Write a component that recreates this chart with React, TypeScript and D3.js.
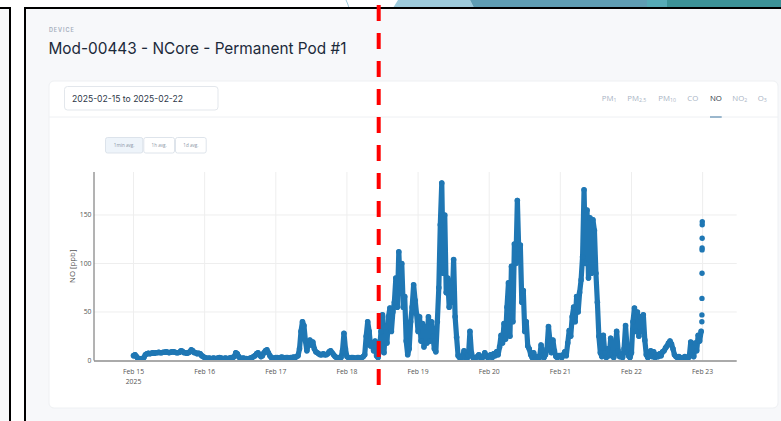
import React from "react";
import * as d3 from "d3";

// ---- Data (NO [ppb], 30‑minute readings) ----
const FEB15 = [5, 6, 4, 2, 2, 1.5, 2, 3, 6, 7, 7.5, 7, 7.5, 8, 7.5, 8, 8, 8.5, 8, 8, 8.5, 8.5, 9, 8.5, 8, 8.5, 9, 9, 8.5, 8, 8, 8.5, 10, 9.5, 8, 8, 7.5, 8, 9, 11, 10, 8, 8, 7, 7.5, 7, 5, 4];
const FEB16 = [3, 2.5, 2, 2.5, 2, 2, 2.5, 2, 2, 2.5, 3, 2.5, 2, 2, 2.5, 2, 2, 2.5, 3, 3, 4, 8, 7, 4, 2, 2, 2.5, 2, 2, 1.5, 2, 2.5, 3, 4, 5, 7, 8, 6, 4, 5, 8, 10, 11, 8, 5, 3, 2.5, 2];
const FEB17 = [3, 3, 2.5, 3, 3.5, 3, 2.5, 3, 3, 2.5, 3, 3, 3.5, 3, 4, 5, 12, 30, 40, 36, 20, 10, 18, 21, 16, 19, 12, 9, 8, 7, 6, 6, 7, 6, 6, 7, 9, 10, 8, 6, 4, 3, 3, 2.5, 3, 10, 28, 12];
const FEB18 = [4, 3, 2.5, 3, 3, 2.5, 2, 3, 3, 2.5, 3, 4, 6, 25, 40, 30, 15, 18, 10, 20, 5, 3, 12, 30, 47, 8, 35, 18, 45, 54, 30, 50, 60, 85, 55, 112, 75, 100, 55, 66, 20, 6, 12, 40, 55, 78, 62, 48];
const FEB19 = [30, 45, 20, 38, 14, 35, 18, 45, 20, 40, 25, 12, 9, 40, 75, 140, 183, 90, 150, 70, 85, 55, 80, 60, 104, 45, 24, 5, 3, 2, 4, 10, 3, 2, 5, 30, 8, 3, 2, 3, 4, 6, 3, 2, 4, 8, 5, 3];
const FEB20 = [4, 6, 3, 7, 5, 9, 6, 14, 26, 18, 38, 22, 55, 80, 25, 97, 40, 120, 100, 165, 110, 119, 60, 72, 30, 40, 15, 12, 6, 3, 8, 3, 2, 4, 3, 16, 5, 3, 6, 12, 35, 20, 8, 21, 10, 4, 3, 5];
const FEB21 = [5, 3, 6, 9, 5, 18, 31, 25, 45, 55, 40, 66, 50, 70, 83, 107, 176, 100, 155, 85, 147, 90, 145, 134, 90, 60, 25, 8, 4, 26, 8, 3, 12, 5, 23, 6, 3, 8, 30, 10, 4, 6, 3, 12, 36, 14, 5, 3];
const FEB22 = [8, 40, 54, 30, 50, 25, 45, 30, 47, 21, 6, 3, 5, 10, 4, 9, 3, 6, 4, 7, 5, 9, 10, 13, 15, 18, 20, 17, 12, 6, 4, 3, 4, 3, 2, 3, 4, 3, 2, 4, 19, 6, 4, 18, 10, 26, 20, 30];
// last minute-by-minute readings starting Feb 22 23:45
const FINAL_MINUTES = [40, 47, 64, 90, 114, 116, 126, 140, 143];

const SERIES_START = Date.UTC(2025, 1, 15, 0, 0);
const FINAL_START = Date.UTC(2025, 1, 22, 23, 45);
const STEP_MIN = 30;

const DAY_TICKS = ["2025-02-15", "2025-02-16", "2025-02-17", "2025-02-18", "2025-02-19", "2025-02-20", "2025-02-21", "2025-02-22", "2025-02-23"];
const Y_TICKS = [0, 50, 100, 150];
const TABS = [
  { base: "PM", sub: "1" },
  { base: "PM", sub: "2.5" },
  { base: "PM", sub: "10" },
  { base: "CO", sub: "" },
  { base: "NO", sub: "" },
  { base: "NO", sub: "2" },
  { base: "O", sub: "3" },
];
const ACTIVE_TAB = 4;
const AVG_BUTTONS = ["1min avg.", "1h avg.", "1d avg."];
const TITLE = "Mod-00443 - NCore - Permanent Pod #1";
const DATE_RANGE = "2025-02-15 to 2025-02-22";

// ---- layout ----
const W = 781;
const H = 421;
const PLOT = { left: 94, right: 736.7, top: 172, bottom: 360.5 };
const TAB_X = [601.7, 627.3, 658.3, 687.3, 710, 732.3, 757.7];
const BTN_X = [105, 143.3, 175, 206.7];
const BLUE = "#1f77b4";
const SANS = "Inter, 'Noto Sans', sans-serif";
const PLOT_FONT = "'Open Sans', 'Noto Sans', sans-serif";

export default function App() {
  const series = [...FEB15, ...FEB16, ...FEB17, ...FEB18, ...FEB19, ...FEB20, ...FEB21, ...FEB22].map((v, i) => ({
    t: new Date(SERIES_START + i * STEP_MIN * 60000),
    v,
  }));
  const finals = FINAL_MINUTES.map((v, i) => ({ t: new Date(FINAL_START + i * 60000), v }));

  const x = d3
    .scaleUtc()
    .domain([new Date(Date.UTC(2025, 1, 14, 10, 40)), new Date(Date.UTC(2025, 1, 23, 11, 30))])
    .range([PLOT.left, PLOT.right]);
  const y = d3.scaleLinear().domain([0, 194.3]).range([PLOT.bottom, PLOT.top]);

  const line = d3
    .line<{ t: Date; v: number }>()
    .x((d) => x(d.t))
    .y((d) => y(d.v));

  const fmt = d3.utcFormat("%b %-d");
  const days = DAY_TICKS.map((s) => new Date(s + "T00:00:00Z"));

  return (
    <div style={{ position: "fixed", left: 0, top: 0, width: W, height: H, background: "#fff" }}>
      <svg width={W} height={H} style={{ display: "block" }}>
        <rect x={0} y={0} width={W} height={H} fill="#ffffff" />
        {/* top decoration */}
        <path d="M346,0 Q348,4 349,8" stroke="#9ecbdc" strokeWidth={1} fill="none" />
        <polygon points="398,0 470,0 474,8 393,8" fill="#9ecbdc" />
        <polygon points="470,0 647,0 647,8 474,8" fill="#5f9db3" />
        <polygon points="647,0 667,0 667,8 647,8" fill="#56aab6" />
        <polygon points="667,0 781,0 781,8 667,8" fill="#3c9297" />
        {/* left panel */}
        <rect x={0} y={9} width={9} height={H} fill="#f7f8fa" />
        <line x1={0} y1={8} x2={11} y2={8} stroke="#000" strokeWidth={2} />
        <line x1={10} y1={8} x2={10} y2={H} stroke="#000" strokeWidth={2} />
        {/* main panel */}
        <rect x={26} y={9} width={W - 26} height={H - 9} fill="#f7f8fa" />
        <line x1={24} y1={8} x2={W} y2={8} stroke="#000" strokeWidth={2} />
        <line x1={25} y1={8} x2={25} y2={H} stroke="#000" strokeWidth={2} />

        <text x={49} y={31.8} fontFamily={SANS} fontSize={5.5} fontWeight={600} letterSpacing={0.9} fill="#a3adbb">
          DEVICE
        </text>
        <text
          x={48.5}
          y={53.5}
          fontFamily={SANS}
          fontSize={16.5}
          fontWeight={400}
          fill="#1c2a3a"
          textLength={298}
          lengthAdjust="spacingAndGlyphs"
        >
          {TITLE}
        </text>

        {/* card */}
        <rect x={49} y={81} width={729} height={327} rx={5} fill="#ffffff" stroke="#eef0f3" strokeWidth={1} />
        <rect x={64.5} y={86.5} width={153.5} height={23.5} rx={3} fill="#fff" stroke="#e3e7ec" strokeWidth={1} />
        <text x={72} y={101.5} fontFamily={SANS} fontSize={8.6} fill="#2d3748">
          {DATE_RANGE}
        </text>
        <line x1={49} y1={117} x2={778} y2={117} stroke="#eef0f3" strokeWidth={1} />

        {TABS.map((tb, i) => (
          <text
            key={i}
            x={TAB_X[i]}
            y={100.5}
            fontFamily={PLOT_FONT}
            fontSize={7.8}
            fill={i === ACTIVE_TAB ? "#2d3748" : "#a9b4c4"}
          >
            {tb.base}
            {tb.sub && (
              <tspan fontSize={5.2} dy={1.8}>
                {tb.sub}
              </tspan>
            )}
          </text>
        ))}
        <line x1={TAB_X[ACTIVE_TAB]} y1={117} x2={TAB_X[ACTIVE_TAB] + 11.7} y2={117} stroke="#84a7c2" strokeWidth={1.6} />

        {AVG_BUTTONS.map((b, i) => (
          <g key={b}>
            <rect
              x={BTN_X[i] + 0.5}
              y={137.5}
              width={BTN_X[i + 1] - BTN_X[i] - 1}
              height={15.5}
              rx={2}
              fill={i === 0 ? "#eef4fa" : "#fff"}
              stroke="#d6dde6"
              strokeWidth={0.8}
            />
            <text
              x={(BTN_X[i] + BTN_X[i + 1]) / 2}
              y={147}
              textAnchor="middle"
              fontFamily={PLOT_FONT}
              fontSize={4.6}
              fill="#8a96a6"
            >
              {b}
            </text>
          </g>
        ))}

        {/* grid */}
        {days.map((d, i) => (
          <line key={"vg" + i} x1={x(d)} x2={x(d)} y1={PLOT.top} y2={PLOT.bottom} stroke="#eeeeee" strokeWidth={1} />
        ))}
        {Y_TICKS.filter((t) => t > 0).map((t) => (
          <line key={"hg" + t} x1={PLOT.left} x2={PLOT.right} y1={y(t)} y2={y(t)} stroke="#eeeeee" strokeWidth={1} />
        ))}

        {/* data */}
        <path
          d={line(series) || ""}
          fill="none"
          stroke={BLUE}
          strokeWidth={5.2}
          strokeLinejoin="round"
          strokeLinecap="round"
        />
        {series.map((d, i) => (
          <circle key={"p" + i} cx={x(d.t)} cy={y(d.v)} r={2.8} fill={BLUE} />
        ))}
        {finals.map((d, i) => (
          <circle key={"f" + i} cx={x(d.t)} cy={y(d.v)} r={2.7} fill={BLUE} />
        ))}

        {/* axes */}
        <line x1={PLOT.left} x2={PLOT.right} y1={PLOT.bottom + 0.5} y2={PLOT.bottom + 0.5} stroke="#aaaaaa" strokeWidth={2} />
        <line x1={PLOT.left} x2={PLOT.left} y1={PLOT.top} y2={PLOT.bottom} stroke="#666666" strokeWidth={1} />
        {Y_TICKS.map((t) => (
          <text key={"yt" + t} x={PLOT.left - 2.5} y={y(t) + 2.4} textAnchor="end" fontFamily={PLOT_FONT} fontSize={6.8} fill="#555">
            {t}
          </text>
        ))}
        {days.map((d, i) => (
          <text key={"xt" + i} x={x(d)} y={374} textAnchor="middle" fontFamily={PLOT_FONT} fontSize={6.8} fill="#555">
            {fmt(d)}
            {i === 0 && (
              <tspan x={x(d)} dy={10}>
                {d.getUTCFullYear()}
              </tspan>
            )}
          </text>
        ))}
        <text
          transform={`translate(${75},${(PLOT.top + PLOT.bottom) / 2}) rotate(-90)`}
          textAnchor="middle"
          fontFamily={PLOT_FONT}
          fontSize={7.8}
          fill="#555"
        >
          NO [ppb]
        </text>

        {/* red dashed marker */}
        <line x1={378.7} x2={378.7} y1={5} y2={386} stroke="#ff0000" strokeWidth={4} strokeDasharray="16 12" />
      </svg>
    </div>
  );
}
